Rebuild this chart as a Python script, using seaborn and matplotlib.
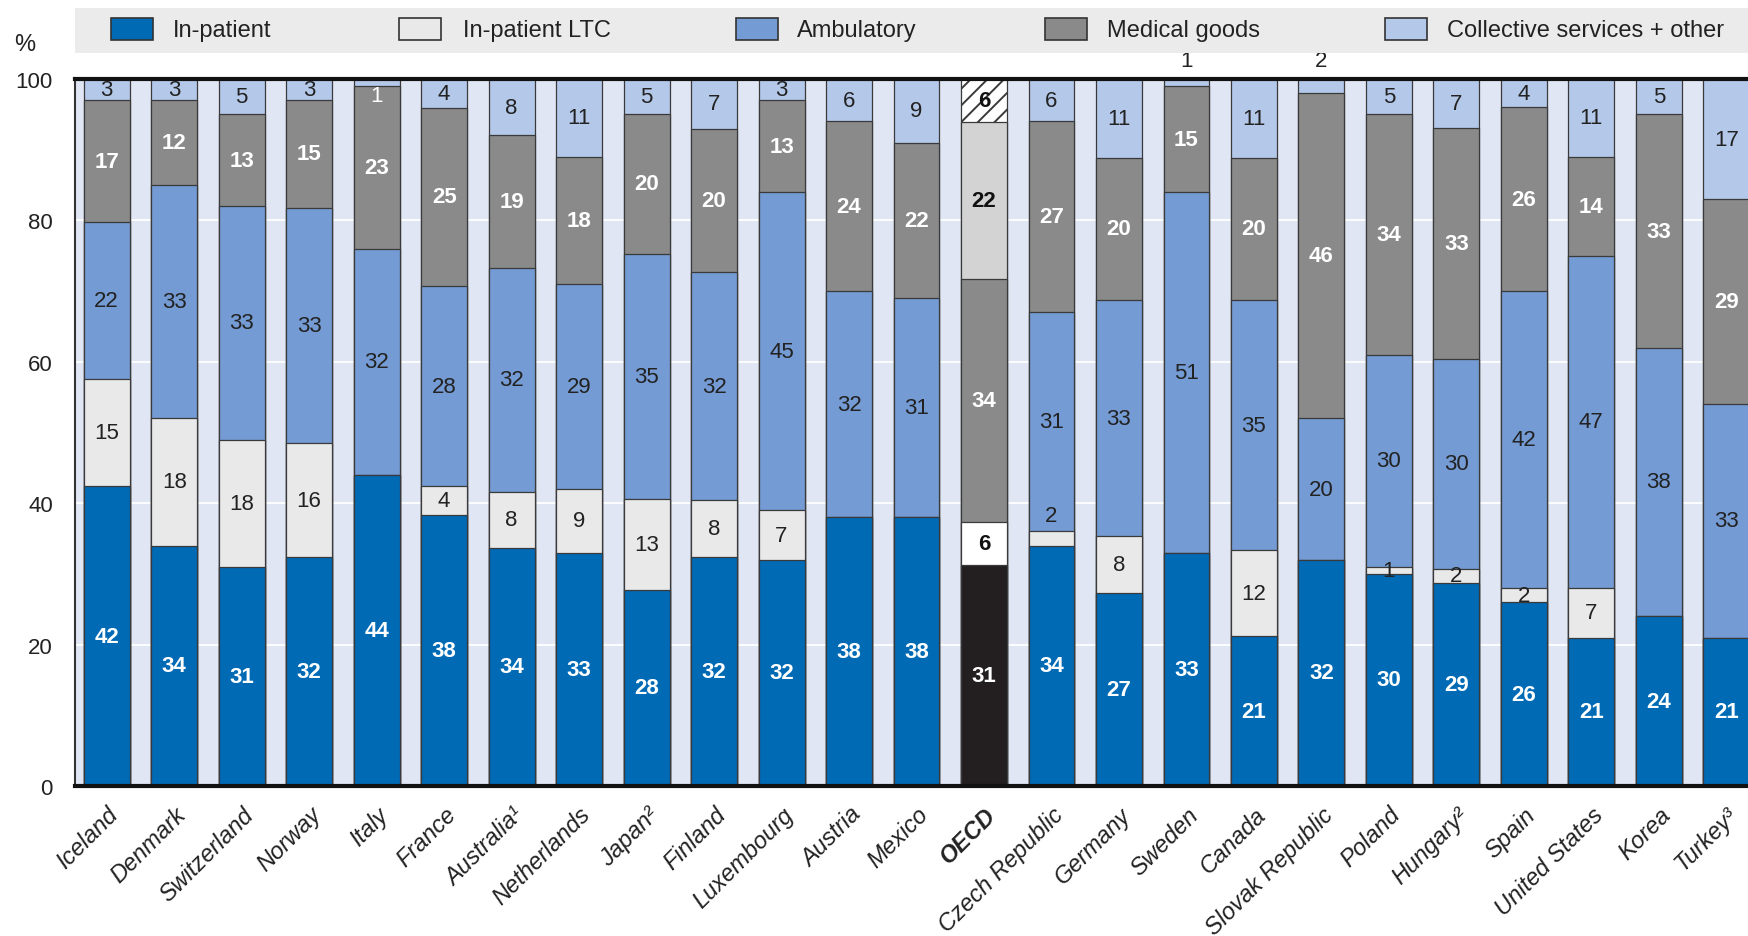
import numpy as np
import pandas as pd
import matplotlib
matplotlib.use("Agg")
import matplotlib.pyplot as plt
from matplotlib.patches import Rectangle
import seaborn as sns

# Data (share of expenditure, %)
countries = ["Iceland", "Denmark", "Switzerland", "Norway", "Italy", "France",
             "Australia¹", "Netherlands", "Japan²", "Finland", "Luxembourg",
             "Austria", "Mexico", "OECD", "Czech Republic", "Germany", "Sweden",
             "Canada", "Slovak Republic", "Poland", "Hungary²", "Spain",
             "United States", "Korea", "Turkey³"]
inpatient = [42, 34, 31, 32, 44, 38, 34, 33, 28, 32, 32, 38, 38, 31, 34, 27, 33, 21, 32, 30, 29, 26, 21, 24, 21]
inpatient_ltc = [15, 18, 18, 16, 0, 4, 8, 9, 13, 8, 7, 0, 0, 6, 2, 8, 0, 12, 0, 1, 2, 2, 7, 0, 0]
ambulatory = [22, 33, 33, 33, 32, 28, 32, 29, 35, 32, 45, 32, 31, 34, 31, 33, 51, 35, 20, 30, 30, 42, 47, 38, 33]
medical_goods = [17, 12, 13, 15, 23, 25, 19, 18, 20, 20, 13, 24, 22, 22, 27, 20, 15, 20, 46, 34, 33, 26, 14, 33, 29]
collective = [3, 3, 5, 3, 1, 4, 8, 11, 5, 7, 3, 6, 9, 6, 6, 11, 1, 11, 2, 5, 7, 4, 11, 5, 17]
series = ["In-patient", "In-patient LTC", "Ambulatory", "Medical goods",
          "Collective services + other"]

colors = ["#006AB5", "#E9E9E9", "#749BD3", "#8A8A8A", "#B4C8E9"]
oecd_colors = ["#231F20", "#FFFFFF", "#8A8A8A", "#D3D3D3", "#FFFFFF"]
label_colors = ["white", "#222222", "#222222", "white", "#222222"]
label_bold = [True, False, False, True, False]

# label placement tweaks for the tiny segments
above_bar = {"Sweden", "Slovak Republic"}
nudge = {("Italy", 4): -1.8, ("Czech Republic", 1): 3.2}

# legend entry positions (figure pixels: swatch left, text left)
legend_x = [(111, 173), (399, 463), (736, 797), (1045, 1107), (1385, 1447)]

sns.set_theme(style="white")
plt.rcParams["font.family"] = ["Liberation Sans", "DejaVu Sans"]
plt.rcParams["hatch.linewidth"] = 1.4

values = np.array([inpatient, inpatient_ltc, ambulatory, medical_goods, collective], dtype=float)
shares = values / values.sum(axis=0) * 100
tops = shares.cumsum(axis=0)
bottoms = tops - shares

W, H = 1748, 937
fig = plt.figure(figsize=(W / 100, H / 100), dpi=100)
ax = fig.add_axes([75 / W, 1 - 787 / H, 0.964, 707 / H])
ax.set_facecolor("#E0E6F4")

# stacked bars: draw cumulative totals from the top layer down
for k in reversed(range(5)):
    df = pd.DataFrame({"country": countries, "top": tops[k]})
    pal = [oecd_colors[k] if c == "OECD" else colors[k] for c in countries]
    sns.barplot(data=df, x="country", y="top", hue="country", order=countries,
                hue_order=countries, palette=pal, legend=False, width=0.68,
                saturation=1, edgecolor="#3A3A3A", linewidth=0.9, ax=ax, zorder=2)
    if k == 4:
        for p in ax.patches:
            if abs(p.get_x() + p.get_width() / 2 - countries.index("OECD")) < 0.1:
                p.set_hatch("//")

# segment labels
for i, c in enumerate(countries):
    for k in range(5):
        v = values[k, i]
        if v == 0:
            continue
        y = bottoms[k, i] + shares[k, i] / 2 + nudge.get((c, k), 0)
        col, bold = label_colors[k], label_bold[k]
        if c == "OECD":
            col = "white" if k in (0, 2) else "#111111"
            bold = True
        if c == "Italy" and k == 4:
            col = "white"
        va = "center"
        if k == 4 and c in above_bar:
            y, va, col = 101.2, "bottom", "#222222"
        ax.text(i, y, f"{v:.0f}", ha="center", va=va, fontsize=16, color=col,
                fontweight="bold" if bold else "normal", zorder=5, clip_on=False)

ax.set_xlim(-0.47, 24.5)
ax.set_ylim(0, 100)
ax.set_yticks([0, 20, 40, 60, 80, 100])
ax.yaxis.grid(True, color="white", linewidth=1.3, zorder=0)
ax.set_axisbelow(True)
ax.set_xlabel("")
ax.set_ylabel("")
ax.tick_params(axis="both", length=0, labelsize=16, colors="#222222")
ax.tick_params(axis="y", pad=16)
ax.tick_params(axis="x", pad=12, labelsize=17)
ax.set_xticks(range(len(countries)))
ax.set_xticklabels(countries, rotation=45, ha="right", rotation_mode="anchor",
                   fontstyle="italic")
for t in ax.get_xticklabels():
    if t.get_text() == "OECD":
        t.set_fontweight("bold")

for side in ["top", "bottom"]:
    ax.spines[side].set_linewidth(3)
    ax.spines[side].set_color("#111111")
    ax.spines[side].set_zorder(6)
ax.spines["left"].set_linewidth(1.5)
ax.spines["left"].set_color("#333333")
ax.spines["right"].set_visible(False)

# legend band with swatches
fig.patches.append(Rectangle((75 / W, 1 - 54 / H), 1 - 75 / W, 45 / H,
                             transform=fig.transFigure, facecolor="#EBEBEB",
                             edgecolor="none", zorder=0))
for k, (xs, xt) in enumerate(legend_x):
    fig.patches.append(Rectangle((xs / W, 1 - 41 / H), 42 / W, 22 / H,
                                 transform=fig.transFigure, facecolor=colors[k],
                                 edgecolor="#333333", linewidth=1.2, zorder=1))
    fig.text(xt / W, 1 - 31 / H, series[k], fontsize=17, va="center",
             ha="left", color="#222222")
fig.text(14 / W, 1 - 45 / H, "%", fontsize=17, va="center", color="#222222")

fig.savefig("out.png", dpi=100)
